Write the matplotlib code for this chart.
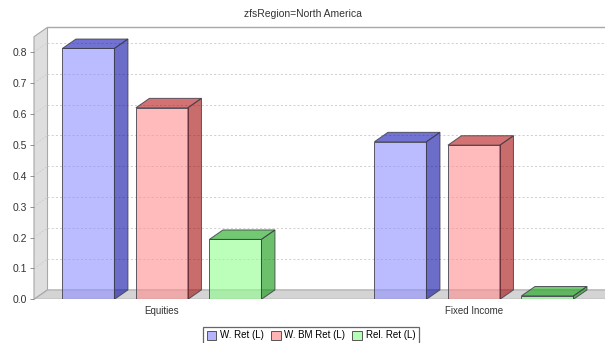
import matplotlib
matplotlib.use("Agg")
import matplotlib.pyplot as plt
from matplotlib.patches import Polygon, Patch

# ---------------- data ----------------
categories = ["Equities", "Fixed Income"]
series_names = ["W. Ret (L)", "W. BM Ret (L)", "Rel. Ret (L)"]
w_ret = [0.812, 0.510]
w_bm_ret = [0.620, 0.499]
rel_ret = [0.194, 0.011]
y_ticks = [0.0, 0.1, 0.2, 0.3, 0.4, 0.5, 0.6, 0.7, 0.8]
y_tick_labels = ["0.0", "0.1", "0.2", "0.3", "0.4", "0.5", "0.6", "0.7", "0.8"]
title = "zfsRegion=North America"

series_values = [w_ret, w_bm_ret, rel_ret]

# ---------------- style ----------------
ALPHA = 0.6
front_cols = [(142, 142, 255), (255, 142, 142), (142, 255, 142)]
side_cols = [(10, 10, 165), (165, 10, 10), (10, 150, 10)]
top_cols = [(20, 20, 180), (180, 20, 20), (20, 165, 20)]
legend_cols = ["#b4b4ff", "#ffb4b4", "#b4ffb4"]


def rgba(c, a=ALPHA):
    return (c[0] / 255, c[1] / 255, c[2] / 255, a)


plt.rcParams['font.family'] = ['Liberation Sans', 'DejaVu Sans']

FW, FH = 605, 343
fig = plt.figure(figsize=(FW / 100, FH / 100), dpi=100)

# layout in pixels
AX_L, AX_R, AX_B, AX_T = 34.0, 605.0, 299.3, 27.3
DX_PX, DY_PX = 13.5, 9.4
Y_MAX = 0.85
X_LO, X_HI = -0.41, 1.42

ax = fig.add_axes([AX_L / FW, 1 - AX_B / FH, (AX_R - AX_L) / FW, (AX_B - AX_T) / FH])
px_per_y = (AX_B - AX_T - DY_PX) / Y_MAX
DY = DY_PX / px_per_y
ax.set_ylim(0, Y_MAX + DY)
ax.set_xlim(X_LO, X_HI)
px_per_x = (AX_R - AX_L) / (X_HI - X_LO)
DX = DX_PX / px_per_x

for s in ax.spines.values():
    s.set_visible(False)
ax.set_facecolor("none")

xl, xr = X_LO, X_HI
edge_grey = "#a8a8a8"

# left wall
wall = Polygon([(xl, 0), (xl, Y_MAX), (xl + DX, Y_MAX + DY), (xl + DX, DY)],
               closed=True, facecolor="#dedede", edgecolor=edge_grey, lw=0.8,
               clip_on=False, zorder=1)
ax.add_patch(wall)
# floor
floor = Polygon([(xl, 0), (xr + 1, 0), (xr + 1 + DX, DY), (xl + DX, DY)],
                closed=True, facecolor="#d4d4d4", edgecolor=edge_grey, lw=0.8,
                clip_on=True, zorder=1)
ax.add_patch(floor)
# back top line
ax.plot([xl + DX, xr + 1], [Y_MAX + DY, Y_MAX + DY], color=edge_grey, lw=1.0,
        clip_on=False, zorder=1, solid_capstyle="butt")

# gridlines (back wall + left wall)
for t in y_ticks[1:]:
    ax.plot([xl + DX, xr + 1], [t + DY, t + DY], color="#c8c8c8", lw=0.6,
            dashes=(2.5, 2.5), zorder=1.5)
    ax.plot([xl, xl + DX], [t, t + DY], color="#c8c8c8", lw=0.6,
            dashes=(2.0, 2.0), zorder=1.5, clip_on=False)

# bars
bar_w = 0.1667
offsets = [-0.2356, 0.0, 0.2356]
edge = (0.25, 0.25, 0.3, 0.85)
z = 3
for j, vals in enumerate(series_values):
    for i, v in enumerate(vals):
        x0 = i + offsets[j] - bar_w / 2
        x1 = x0 + bar_w
        front = Polygon([(x0, 0), (x1, 0), (x1, v), (x0, v)], closed=True,
                        facecolor=rgba(front_cols[j]), edgecolor=edge, lw=0.7, zorder=z)
        side = Polygon([(x1, 0), (x1 + DX, DY), (x1 + DX, v + DY), (x1, v)], closed=True,
                       facecolor=rgba(side_cols[j]), edgecolor=edge, lw=0.7, zorder=z)
        top = Polygon([(x0, v), (x1, v), (x1 + DX, v + DY), (x0 + DX, v + DY)], closed=True,
                      facecolor=rgba(top_cols[j]), edgecolor=edge, lw=0.7, zorder=z)
        for p in (front, side, top):
            ax.add_patch(p)

# axes ticks
ax.set_yticks(y_ticks)
ax.set_yticklabels(y_tick_labels)
ax.tick_params(axis="y", length=3, width=0.6, color="#808080", pad=2,
               labelsize=7.5, labelcolor="#333333")
ax.set_xticks(range(len(categories)))
ax.set_xticklabels(categories)
ax.tick_params(axis="x", length=0, pad=5, labelsize=7, labelcolor="#333333")

# title
fig.text(303 / FW, 1 - 14 / FH, title, ha="center", va="center",
         fontsize=7.5, color="#333333")

# legend
handles = [Patch(facecolor=legend_cols[k], edgecolor="#555555", lw=0.7,
                 label=series_names[k]) for k in range(3)]
leg = fig.legend(handles=handles, loc="center",
                 bbox_to_anchor=(311 / FW, 1 - 335.5 / FH), ncol=3,
                 fontsize=7, frameon=True, fancybox=False,
                 handlelength=1.0, handleheight=1.0, handletextpad=0.4,
                 columnspacing=0.7, borderpad=0.35, borderaxespad=0)
leg.get_frame().set_edgecolor("#404040")
leg.get_frame().set_linewidth(0.9)

fig.savefig("out.png", dpi=100)
